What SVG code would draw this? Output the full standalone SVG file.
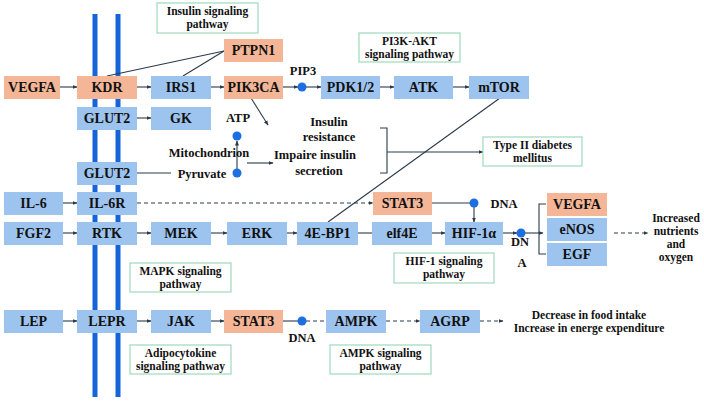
<svg xmlns="http://www.w3.org/2000/svg" width="704" height="402" viewBox="0 0 704 402">
<defs>
<marker id="ah" viewBox="0 0 10 10" refX="9" refY="5" markerWidth="5" markerHeight="5" orient="auto" markerUnits="userSpaceOnUse">
<path d="M0,1 L10,5 L0,9 z" fill="#2b3a4a"/>
</marker>
<style>
.o{fill:#F4B696;}
.b{fill:#9DC3EF;}
.nt{font-family:"Liberation Serif","Times New Roman",serif;font-weight:bold;font-size:14px;fill:#111;text-anchor:middle;}
.lb{fill:#fff;stroke:#9ED9BC;stroke-width:1.2;}
.lt{font-family:"Liberation Serif","Times New Roman",serif;font-weight:bold;font-size:11.5px;fill:#111;text-anchor:middle;}
.tx{font-family:"Liberation Serif","Times New Roman",serif;font-weight:bold;font-size:12.5px;fill:#111;text-anchor:middle;}
.c{stroke:#2b3a4a;stroke-width:1.1;fill:none;}
.ca{stroke:#2b3a4a;stroke-width:1.1;fill:none;marker-end:url(#ah);}
.d{stroke-dasharray:4,3;}
.dot{fill:#1C6FE0;}
.mem{stroke:#1565D8;stroke-width:5;}
</style>
</defs>
<rect width="704" height="402" fill="#fff"/>

<g id="membrane">
<line class="mem" x1="95" y1="14" x2="95" y2="397"/>
<line class="mem" x1="118" y1="14" x2="118" y2="397"/>
</g>

<g id="connectors">
<line class="ca" x1="60" y1="87" x2="77" y2="87"/>
<line class="ca" x1="137" y1="87" x2="151" y2="87"/>
<line class="ca" x1="211" y1="87" x2="224" y2="87"/>
<line class="ca" x1="283" y1="87" x2="298" y2="87"/>
<line class="ca" x1="306" y1="87" x2="321" y2="87"/>
<line class="ca" x1="380" y1="87" x2="394" y2="87"/>
<line class="ca" x1="453" y1="87" x2="469" y2="87"/>
<line class="c" x1="224" y1="51" x2="107" y2="76"/>
<line class="c" x1="224" y1="51" x2="183" y2="76"/>
<line class="ca" x1="137" y1="118" x2="151" y2="118"/>
<line class="ca" x1="251" y1="98" x2="268" y2="125"/>
<line class="ca" x1="237" y1="169" x2="237" y2="141"/>
<line class="c" x1="137" y1="173" x2="171" y2="173"/>
<line class="ca" x1="247" y1="163" x2="273" y2="163"/>
<path class="c" d="M380,128 H387 V173 H380"/>
<line class="ca" x1="387" y1="152" x2="483" y2="152"/>
<line class="c" x1="500" y1="98" x2="328" y2="222"/>
<line class="ca" x1="63" y1="203" x2="77" y2="203"/>
<line class="ca d" x1="137" y1="203" x2="373" y2="203"/>
<line class="c" x1="432" y1="203" x2="470" y2="203"/>
<line class="ca" x1="474" y1="207" x2="474" y2="222"/>
<line class="ca" x1="63" y1="233" x2="77" y2="233"/>
<line class="ca" x1="137" y1="233" x2="151" y2="233"/>
<line class="ca" x1="211" y1="233" x2="227" y2="233"/>
<line class="ca" x1="287" y1="233" x2="297" y2="233"/>
<line class="c" x1="358" y1="233" x2="372" y2="233"/>
<line class="ca" x1="432" y1="233" x2="445" y2="233"/>
<line class="ca" x1="503" y1="233" x2="517" y2="233"/>
<line class="ca" x1="525" y1="233" x2="543" y2="233"/>
<path class="c" d="M546,204 H539 V254 H546"/>
<line class="ca d" x1="614" y1="233" x2="648" y2="233"/>
<line class="ca" x1="63" y1="321" x2="77" y2="321"/>
<line class="ca" x1="137" y1="321" x2="151" y2="321"/>
<line class="ca" x1="211" y1="321" x2="224" y2="321"/>
<line class="c" x1="283" y1="321" x2="298" y2="321"/>
<line class="c d" x1="306" y1="321" x2="326" y2="321"/>
<line class="ca d" x1="386" y1="321" x2="420" y2="321"/>
<line class="ca d" x1="480" y1="321" x2="503" y2="321"/>
</g>

<g id="dots">
<circle class="dot" cx="302" cy="87" r="4.5"/>
<circle class="dot" cx="237" cy="136" r="4.5"/>
<circle class="dot" cx="237" cy="173" r="4.5"/>
<circle class="dot" cx="474" cy="203" r="4.5"/>
<circle class="dot" cx="521" cy="233" r="4.5"/>
<circle class="dot" cx="302" cy="321" r="4.5"/>
</g>

<g id="VEGFA1"><rect class="o" x="4" y="76" width="56" height="23"/><text class="nt" x="32" y="92">VEGFA</text></g>
<g id="KDR"><rect class="o" x="77" y="76" width="60" height="23"/><text class="nt" x="107" y="92">KDR</text></g>
<g id="IRS1"><rect class="b" x="151" y="76" width="60" height="23"/><text class="nt" x="181" y="92">IRS1</text></g>
<g id="PIK3CA"><rect class="o" x="224" y="76" width="59" height="23"/><text class="nt" x="253.5" y="92">PIK3CA</text></g>
<g id="PTPN1"><rect class="o" x="224" y="39" width="59" height="23"/><text class="nt" x="253.5" y="55">PTPN1</text></g>
<g id="PDK12"><rect class="b" x="321" y="76" width="59" height="23"/><text class="nt" x="350.5" y="92">PDK1/2</text></g>
<g id="ATK"><rect class="b" x="394" y="76" width="59" height="23"/><text class="nt" x="423.5" y="92">ATK</text></g>
<g id="mTOR"><rect class="b" x="469" y="76" width="60" height="23"/><text class="nt" x="499" y="92">mTOR</text></g>
<g id="GLUT2a"><rect class="b" x="77" y="107" width="60" height="23"/><text class="nt" x="107" y="123">GLUT2</text></g>
<g id="GK"><rect class="b" x="151" y="107" width="60" height="23"/><text class="nt" x="181" y="123">GK</text></g>
<g id="GLUT2b"><rect class="b" x="77" y="162" width="60" height="23"/><text class="nt" x="107" y="178">GLUT2</text></g>
<g id="IL6"><rect class="b" x="4" y="192" width="59" height="23"/><text class="nt" x="33.5" y="208">IL-6</text></g>
<g id="IL6R"><rect class="b" x="77" y="192" width="60" height="23"/><text class="nt" x="107" y="208">IL-6R</text></g>
<g id="STAT3a"><rect class="o" x="373" y="192" width="59" height="23"/><text class="nt" x="402.5" y="208">STAT3</text></g>
<g id="FGF2"><rect class="b" x="4" y="222" width="59" height="23"/><text class="nt" x="33.5" y="238">FGF2</text></g>
<g id="RTK"><rect class="b" x="77" y="222" width="60" height="23"/><text class="nt" x="107" y="238">RTK</text></g>
<g id="MEK"><rect class="b" x="151" y="222" width="60" height="23"/><text class="nt" x="181" y="238">MEK</text></g>
<g id="ERK"><rect class="b" x="227" y="222" width="60" height="23"/><text class="nt" x="257" y="238">ERK</text></g>
<g id="4EBP1"><rect class="b" x="297" y="222" width="61" height="23"/><text class="nt" x="327.5" y="238">4E-BP1</text></g>
<g id="elf4E"><rect class="b" x="372" y="222" width="60" height="23"/><text class="nt" x="402" y="238">elf4E</text></g>
<g id="HIF1a"><rect class="b" x="445" y="222" width="58" height="23"/><text class="nt" x="474" y="238">HIF-1α</text></g>
<g id="VEGFA2"><rect class="o" x="547" y="193" width="60" height="23"/><text class="nt" x="577" y="209">VEGFA</text></g>
<g id="eNOS"><rect class="b" x="547" y="218" width="60" height="23"/><text class="nt" x="577" y="234">eNOS</text></g>
<g id="EGF"><rect class="b" x="547" y="243" width="60" height="23"/><text class="nt" x="577" y="259">EGF</text></g>
<g id="LEP"><rect class="b" x="4" y="310" width="59" height="23"/><text class="nt" x="33.5" y="326">LEP</text></g>
<g id="LEPR"><rect class="b" x="77" y="310" width="60" height="23"/><text class="nt" x="107" y="326">LEPR</text></g>
<g id="JAK"><rect class="b" x="151" y="310" width="60" height="23"/><text class="nt" x="181" y="326">JAK</text></g>
<g id="STAT3b"><rect class="o" x="224" y="310" width="59" height="23"/><text class="nt" x="253.5" y="326">STAT3</text></g>
<g id="AMPK"><rect class="b" x="326" y="310" width="60" height="23"/><text class="nt" x="356" y="326">AMPK</text></g>
<g id="AGRP"><rect class="b" x="420" y="310" width="60" height="23"/><text class="nt" x="450" y="326">AGRP</text></g>

<g id="lbl-insulin"><rect class="lb" x="157" y="3" width="101" height="30"/><text class="lt" x="207.5" y="15">Insulin signaling</text><text class="lt" x="207.5" y="28">pathway</text></g>
<g id="lbl-pi3k"><rect class="lb" x="359" y="33" width="101" height="29"/><text class="lt" x="409.5" y="45">PI3K-AKT</text><text class="lt" x="409.5" y="58">signaling pathway</text></g>
<g id="lbl-t2dm"><rect class="lb" x="483" y="137" width="99" height="29"/><text class="lt" x="532.5" y="149">Type II diabetes</text><text class="lt" x="532.5" y="162">mellitus</text></g>
<g id="lbl-mapk"><rect class="lb" x="130" y="263" width="101" height="29"/><text class="lt" x="180.5" y="275">MAPK signaling</text><text class="lt" x="180.5" y="288">pathway</text></g>
<g id="lbl-hif"><rect class="lb" x="394" y="253" width="100" height="30"/><text class="lt" x="444" y="265">HIF-1 signaling</text><text class="lt" x="444" y="278">pathway</text></g>
<g id="lbl-adipo"><rect class="lb" x="130" y="345" width="101" height="29"/><text class="lt" x="180.5" y="357">Adipocytokine</text><text class="lt" x="180.5" y="370">signaling pathway</text></g>
<g id="lbl-ampk"><rect class="lb" x="330" y="345" width="101" height="29"/><text class="lt" x="380.5" y="357">AMPK signaling</text><text class="lt" x="380.5" y="370">pathway</text></g>

<g id="texts">
<text class="tx" x="303" y="75">PIP3</text>
<text class="tx" x="238" y="122">ATP</text>
<text class="tx" x="209" y="157">Mitochondrion</text>
<text class="tx" x="202" y="178">Pyruvate</text>
<text class="tx" x="329" y="126">Insulin</text>
<text class="tx" x="329" y="141">resistance</text>
<text class="tx" x="315" y="159">Impaire insulin</text>
<text class="tx" x="319" y="175">secretion</text>
<text class="tx" x="504" y="208">DNA</text>
<text class="tx" x="520" y="246">DN</text>
<text class="tx" x="522" y="267">A</text>
<text class="tx" x="302" y="342">DNA</text>
<text class="lt" x="676" y="222">Increased</text>
<text class="lt" x="676" y="235">nutrients</text>
<text class="lt" x="676" y="248">and</text>
<text class="lt" x="676" y="261">oxygen</text>
<text class="lt" x="589" y="319">Decrease in food intake</text>
<text class="lt" x="589" y="332">Increase in energe expenditure</text>
</g>
</svg>
